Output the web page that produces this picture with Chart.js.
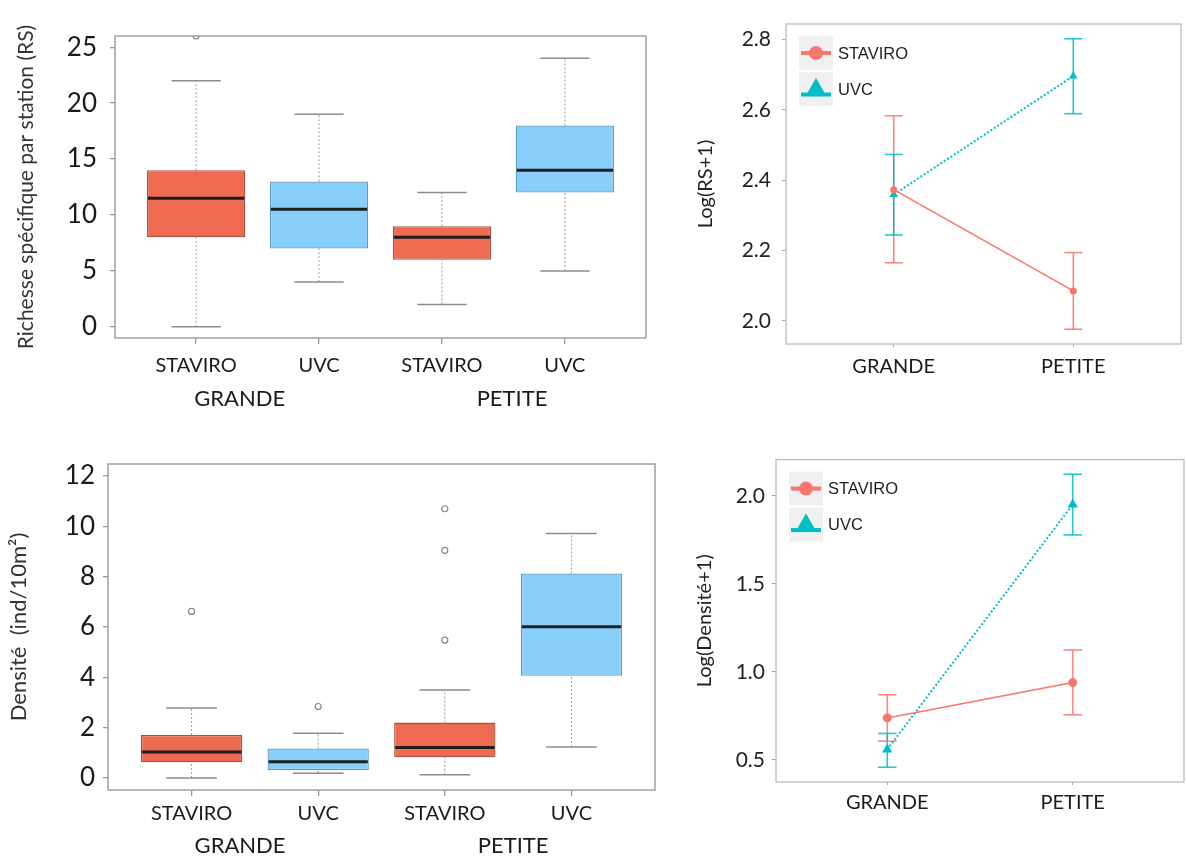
<!DOCTYPE html>
<html>
<head>
<meta charset="utf-8">
<script src="https://cdn.jsdelivr.net/npm/chart.js@4.4.1/dist/chart.umd.min.js"></script>
<style>
    html, body { margin: 0; padding: 0; background: #fff; width: 1186px; height: 856px; overflow: hidden; }
    .panel { position: absolute; }
</style>
</head>
<body>
<div class="panel" style="left:0;top:0"><canvas id="rsBox" width="680" height="420"></canvas></div>
<div class="panel" style="left:0;top:440px"><canvas id="denBox" width="680" height="416"></canvas></div>
<div class="panel" style="left:690px;top:0"><canvas id="rsMean" width="496" height="420"></canvas></div>
<div class="panel" style="left:690px;top:440px"><canvas id="denMean" width="500" height="416"></canvas></div>
<script>
const methods = ['STAVIRO', 'UVC', 'STAVIRO', 'UVC'];
const habitats = ['GRANDE', 'PETITE'];
const seriesNames = ['STAVIRO', 'UVC'];

// richesse specifique par station (boxplots)
const rsMin = [0, 4, 2, 5];
const rsQ1 = [8, 7, 6, 12];
const rsMed = [11.5, 10.5, 8, 14];
const rsQ3 = [14, 13, 9, 18];
const rsMax = [22, 19, 12, 24];
const rsOutliers = [[26], [], [], []];
const rsTicks = [0, 5, 10, 15, 20, 25];

// densite (boxplots)
const denMin = [0, 0.19, 0.13, 1.23];
const denQ1 = [0.62, 0.31, 0.82, 4.06];
const denMed = [1.03, 0.64, 1.21, 6.01];
const denQ3 = [1.71, 1.17, 2.20, 8.13];
const denMax = [2.78, 1.78, 3.50, 9.72];
const denOutliers = [[6.62], [2.84], [5.48, 9.05, 10.70], []];
const denTicks = [0, 2, 4, 6, 8, 10, 12];

// log(RS+1), mean and error bars
const logRsStaviro = [2.373, 2.085];
const logRsStaviroLo = [2.165, 1.976];
const logRsStaviroHi = [2.583, 2.194];
const logRsUvc = [2.359, 2.696];
const logRsUvcLo = [2.244, 2.589];
const logRsUvcHi = [2.473, 2.802];
const logRsTicks = [2.0, 2.2, 2.4, 2.6, 2.8];

// log(Densite+1), mean and error bars
const logDenStaviro = [0.738, 0.939];
const logDenStaviroLo = [0.606, 0.756];
const logDenStaviroHi = [0.870, 1.124];
const logDenUvc = [0.559, 1.951];
const logDenUvcLo = [0.458, 1.778];
const logDenUvcHi = [0.650, 2.123];
const logDenTicks = [0.5, 1.0, 1.5, 2.0];

const FONT = 'Lato, "Open Sans", sans-serif';
const boxFill = ['#EE6A50', '#87CEFA', '#EE6A50', '#87CEFA'];
const boxEdge = ['#A9503F', '#5E9CC4', '#A9503F', '#5E9CC4'];
const red = '#F8766D';
const teal = '#00BFC4';

function fixedWidth(w) { return s => { s.width = w; }; }
function fixedHeight(h) { return s => { s.height = h; }; }
function setTicks(values) { return s => { s.ticks = values.map(v => ({ value: v })); }; }

function line(ctx, x1, y1, x2, y2) {
    ctx.beginPath();
    ctx.moveTo(x1, y1);
    ctx.lineTo(x2, y2);
    ctx.stroke();
}

// whiskers, caps, medians, frame and group labels of the boxplots
const boxExtras = {
    id: 'boxExtras',
    beforeDatasetsDraw(chart, args, o) {
        const { ctx } = chart;
        const x = chart.scales.x, y = chart.scales.y;
        ctx.save();
        o.lo.forEach((v, i) => {
            const px = x.getPixelForValue(i + 1);
            const cap = x.getPixelForValue(i + 1.2) - px;
            ctx.setLineDash([2, 2]);
            ctx.strokeStyle = '#9a9a9a';
            ctx.lineWidth = 1;
            line(ctx, px, y.getPixelForValue(o.lo[i]), px, y.getPixelForValue(o.q1[i]));
            line(ctx, px, y.getPixelForValue(o.q3[i]), px, y.getPixelForValue(o.hi[i]));
            ctx.setLineDash([]);
            ctx.strokeStyle = '#8c8c8c';
            ctx.lineWidth = 1.5;
            line(ctx, px - cap, y.getPixelForValue(o.lo[i]), px + cap, y.getPixelForValue(o.lo[i]));
            line(ctx, px - cap, y.getPixelForValue(o.hi[i]), px + cap, y.getPixelForValue(o.hi[i]));
        });
        ctx.restore();
    },
    afterDatasetsDraw(chart, args, o) {
        const { ctx } = chart;
        const x = chart.scales.x, y = chart.scales.y;
        ctx.save();
        ctx.strokeStyle = '#1e1e1e';
        ctx.lineWidth = 3;
        o.med.forEach((v, i) => {
            const half = x.getPixelForValue(i + 1.4) - x.getPixelForValue(i + 1);
            const px = x.getPixelForValue(i + 1), py = y.getPixelForValue(v);
            line(ctx, px - half + 1, py, px + half - 1, py);
        });
        ctx.restore();
    },
    afterDraw(chart, args, o) {
        const { ctx, chartArea: a } = chart;
        const x = chart.scales.x;
        ctx.save();
        ctx.strokeStyle = '#a0a0a0';
        ctx.lineWidth = 1.5;
        ctx.strokeRect(a.left, a.top, a.right - a.left, a.bottom - a.top);
        ctx.fillStyle = '#1a1a1a';
        ctx.font = '22px ' + FONT;
        ctx.textAlign = 'center';
        ctx.textBaseline = 'middle';
        habitats.forEach((h, i) => {
            ctx.fillText(h, x.getPixelForValue(o.groupAt[i]), a.bottom + o.groupGap);
        });
        ctx.restore();
    }
};

// error bars, frame and legend of the mean plots
const meanExtras = {
    id: 'meanExtras',
    beforeDatasetsDraw(chart, args, o) {
        const { ctx } = chart;
        const x = chart.scales.x, y = chart.scales.y;
        ctx.save();
        ctx.lineWidth = 1.6;
        o.lo.forEach((lows, d) => {
            ctx.strokeStyle = chart.data.datasets[d].borderColor;
            ctx.globalAlpha = 0.85;
            lows.forEach((lo, i) => {
                const px = x.getPixelForValue(i + 1);
                const half = x.getPixelForValue(i + 1.05) - px;
                const y1 = y.getPixelForValue(lo), y2 = y.getPixelForValue(o.hi[d][i]);
                line(ctx, px, y1, px, y2);
                line(ctx, px - half, y1, px + half, y1);
                line(ctx, px - half, y2, px + half, y2);
            });
        });
        ctx.restore();
    },
    afterDraw(chart) {
        const { ctx, chartArea: a } = chart;
        ctx.save();
        ctx.strokeStyle = '#c4c4c4';
        ctx.lineWidth = 1.5;
        ctx.strokeRect(a.left, a.top, a.right - a.left, a.bottom - a.top);

        // legend keys in the ggplot style
        const size = 34;
        chart.data.datasets.forEach((ds, d) => {
            const kx = a.left + 13, ky = a.top + 12 + d * (size + 2);
            ctx.fillStyle = '#f0f0f0';
            ctx.fillRect(kx, ky, size, size);
            const cx = kx + size / 2, cy = ky + size / 2;
            const ly = d ? cy + 5.5 : cy;
            ctx.strokeStyle = ds.borderColor;
            ctx.lineWidth = 4;
            line(ctx, kx + 2, ly, kx + size - 2, ly);
            ctx.fillStyle = ds.borderColor;
            Chart.helpers.drawPoint(ctx, { pointStyle: ds.pointStyle, radius: d ? 11 : 7, rotation: 0, borderWidth: 0 }, cx, cy);
            ctx.fillStyle = '#1e1e1e';
            ctx.font = '16.5px "Liberation Sans", Arial, sans-serif';
            ctx.textAlign = 'left';
            ctx.textBaseline = 'middle';
            ctx.fillText(ds.label, kx + size + 5, cy + 1);
        });
        ctx.restore();
    }
};

function makeBoxChart(id, c) {
    return new Chart(document.getElementById(id), {
        type: 'bar',
        data: {
            datasets: [{
                type: 'bar',
                data: methods.map((m, i) => ({ x: i + 1, y: [c.q1[i], c.q3[i]] })),
                backgroundColor: boxFill,
                borderColor: boxEdge,
                borderWidth: 1.3,
                borderSkipped: false,
                categoryPercentage: 1,
                barPercentage: 0.8,
                order: 2
            }, {
                type: 'scatter',
                data: c.outliers.flatMap((vals, i) => vals.map(v => ({ x: i + 1, y: v }))),
                pointStyle: 'circle',
                pointRadius: 3,
                pointBorderWidth: 1.2,
                pointBorderColor: '#8a8a8a',
                pointBackgroundColor: 'rgba(0,0,0,0)',
                clip: 0,
                order: 1
            }]
        },
        options: {
            responsive: false,
            animation: false,
            layout: { padding: { left: 0, top: c.top, right: c.right, bottom: 0 } },
            plugins: {
                legend: { display: false },
                tooltip: { enabled: false },
                boxExtras: { lo: c.lo, q1: c.q1, med: c.med, q3: c.q3, hi: c.hi, groupAt: c.groupAt, groupGap: c.groupGap }
            },
            scales: {
                x: {
                    type: 'linear', min: 0.34, max: 4.66, offset: false,
                    afterBuildTicks: setTicks([1, 2, 3, 4]),
                    afterFit: fixedHeight(c.xh),
                    ticks: { callback: v => methods[v - 1], font: { family: FONT, size: 20 }, color: '#1a1a1a', padding: c.xpad, autoSkip: false, maxRotation: 0 },
                    grid: { offset: false, drawOnChartArea: false, tickLength: 6, color: '#999', lineWidth: 1.3 },
                    border: { display: false }
                },
                y: {
                    min: c.min, max: c.max,
                    afterBuildTicks: setTicks(c.ticks),
                    afterFit: fixedWidth(c.yw),
                    ticks: { font: { family: FONT, size: 26 }, color: '#1a1a1a', padding: c.ypad },
                    grid: { drawOnChartArea: false, tickLength: 5, color: '#999', lineWidth: 1.3 },
                    border: { display: false },
                    title: { display: true, text: c.title, font: { family: FONT, size: c.tsize }, color: '#333', padding: { top: c.tpad, bottom: 0 } }
                }
            }
        },
        plugins: [boxExtras]
    });
}

function makeMeanChart(id, c) {
    return new Chart(document.getElementById(id), {
        type: 'line',
        data: {
            datasets: [{
                label: seriesNames[0],
                data: habitats.map((h, i) => ({ x: i + 1, y: c.staviro[i] })),
                borderColor: red, backgroundColor: red,
                borderWidth: 1.6, pointStyle: 'circle', pointRadius: c.dot, pointBorderWidth: 0
            }, {
                label: seriesNames[1],
                data: habitats.map((h, i) => ({ x: i + 1, y: c.uvc[i] })),
                borderColor: teal, backgroundColor: teal,
                borderWidth: 2, borderDash: [2, 2], pointStyle: 'triangle', pointRadius: c.tri, pointBorderWidth: 0
            }]
        },
        options: {
            responsive: false,
            animation: false,
            layout: { padding: { left: 0, top: c.top, right: c.right, bottom: 0 } },
            plugins: {
                legend: { display: false },
                tooltip: { enabled: false },
                meanExtras: { lo: c.lo, hi: c.hi }
            },
            scales: {
                x: {
                    type: 'linear', min: 0.4, max: 2.6, offset: false,
                    afterBuildTicks: setTicks([1, 2]),
                    afterFit: fixedHeight(c.xh),
                    ticks: { callback: v => habitats[v - 1], font: { family: FONT, size: 20 }, color: '#1a1a1a', padding: c.xpad, maxRotation: 0 },
                    grid: { drawOnChartArea: false, tickLength: 3, color: '#aaa' },
                    border: { display: false }
                },
                y: {
                    min: c.min, max: c.max,
                    afterBuildTicks: setTicks(c.ticks),
                    afterFit: fixedWidth(c.yw),
                    ticks: { callback: v => v.toFixed(1), font: { family: FONT, size: 21 }, color: '#222', padding: c.ypad },
                    grid: { drawOnChartArea: false, tickLength: 4, color: '#aaa' },
                    border: { display: false },
                    title: { display: true, text: c.title, font: { family: FONT, size: 20 }, color: '#222', padding: { top: c.tpad, bottom: 0 } }
                }
            }
        },
        plugins: [meanExtras]
    });
}

makeBoxChart('rsBox', {
    q1: rsQ1, q3: rsQ3, med: rsMed, lo: rsMin, hi: rsMax, outliers: rsOutliers, ticks: rsTicks,
    min: -1, max: 26, title: 'Richesse spécifique par station (RS)', tsize: 21,
    top: 36, right: 34, xh: 82, yw: 115, xpad: 10, ypad: 13, tpad: 14,
    groupAt: [1.355, 3.57], groupGap: 61
});

makeBoxChart('denBox', {
    q1: denQ1, q3: denQ3, med: denMed, lo: denMin, hi: denMax, outliers: denOutliers, ticks: denTicks,
    min: -0.48, max: 12.48, title: 'Densité  (ind/10m²)', tsize: 22,
    top: 24, right: 25, xh: 66, yw: 108, xpad: 6, ypad: 8, tpad: 6,
    groupAt: [1.383, 3.54], groupGap: 56
});

makeMeanChart('rsMean', {
    staviro: logRsStaviro, uvc: logRsUvc,
    lo: [logRsStaviroLo, logRsUvcLo], hi: [logRsStaviroHi, logRsUvcHi],
    ticks: logRsTicks, min: 1.934, max: 2.844, title: 'Log(RS+1)', dot: 3.5, tri: 5,
    top: 24, right: 1, xh: 76, yw: 96, xpad: 8, ypad: 11, tpad: 4
});

makeMeanChart('denMean', {
    staviro: logDenStaviro, uvc: logDenUvc,
    lo: [logDenStaviroLo, logDenUvcLo], hi: [logDenStaviroHi, logDenUvcHi],
    ticks: logDenTicks, min: 0.374, max: 2.206, title: 'Log(Densité+1)', dot: 4.5, tri: 6,
    top: 16, right: 2, xh: 74, yw: 86, xpad: 6, ypad: 7, tpad: 3
});
</script>
</body>
</html>
